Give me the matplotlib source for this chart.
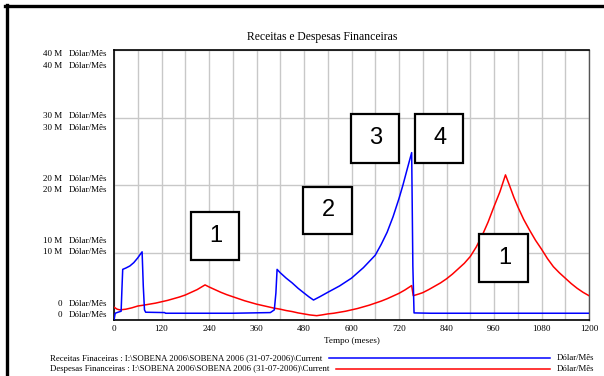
import numpy as np
import matplotlib
matplotlib.use("Agg")
import matplotlib.pyplot as plt
from matplotlib.lines import Line2D
from matplotlib.patches import Rectangle

# time axis (months) and values in millions of Dólar/Mês
receitas_t = [0, 3, 10, 18, 20, 22, 30, 40, 50, 60, 66, 71, 74, 77, 80, 128, 130,
              300, 395, 405, 409, 412, 420, 435, 450, 465, 480, 492, 504, 520, 540,
              570, 600, 630, 660, 675, 690, 705, 720, 730, 740, 752, 755, 758, 800,
              1200]
receitas_v = [0.0, 1.0, 1.15, 1.3, 4.5, 7.5, 7.7, 8.0, 8.5, 9.2, 9.7, 10.1, 5.0,
              1.5, 1.15, 1.1, 1.0, 1.0, 1.1, 1.5, 4.0, 7.5, 7.0, 6.2, 5.5, 4.7, 4.0,
              3.45, 2.96, 3.45, 4.1, 5.05, 6.2, 7.75, 9.6, 11.2, 13.0, 15.3, 18.0,
              20.0, 22.2, 24.8, 8.0, 1.05, 1.0, 1.0]

despesas_t = [0, 8, 15, 30, 45, 60, 75, 90, 105, 120, 135, 150, 165, 180, 195, 210,
              220, 230, 240, 255, 270, 285, 300, 315, 330, 345, 360, 375, 390, 405,
              420, 435, 450, 465, 480, 495, 512, 525, 540, 555, 570, 585, 600, 615,
              630, 645, 660, 675, 690, 705, 720, 735, 752, 756, 770, 780, 795, 810,
              825, 840, 855, 870, 885, 900, 915, 930, 945, 960, 975, 989, 1000, 1010,
              1020, 1035, 1050, 1065, 1080, 1095, 1110, 1125, 1140, 1155, 1170, 1185,
              1200]
despesas_v = [1.9, 1.6, 1.5, 1.6, 1.8, 2.07, 2.2, 2.35, 2.5, 2.7, 2.9, 3.15, 3.4,
              3.7, 4.1, 4.5, 4.85, 5.2, 4.9, 4.5, 4.1, 3.75, 3.45, 3.15, 2.85, 2.6,
              2.35, 2.15, 1.95, 1.75, 1.6, 1.4, 1.25, 1.05, 0.9, 0.75, 0.64, 0.75,
              0.9, 1.0, 1.15, 1.3, 1.5, 1.7, 1.95, 2.2, 2.5, 2.8, 3.15, 3.55, 3.95,
              4.45, 5.1, 3.6, 3.85, 4.05, 4.5, 5.0, 5.5, 6.1, 6.8, 7.6, 8.4, 9.4,
              10.8, 12.5, 14.5, 16.8, 19.0, 21.5, 19.8, 18.2, 16.8, 14.9, 13.3, 11.8,
              10.5, 9.1, 7.9, 7.0, 6.2, 5.4, 4.7, 4.1, 3.6]

x_ticks = list(range(0, 1201, 120))
y_ticks = [0, 10, 20, 30, 40]
y_tick_text = ["0", "10 M", "20 M", "30 M", "40 M"]
unidade = "Dólar/Mês"

titulo = "Receitas e Despesas Financeiras"
eixo_x = "Tempo (meses)"
legenda = [
    ("Receitas Finaceiras : I:\\SOBENA 2006\\SOBENA 2006 (31-07-2006)\\Current", "#0000ff"),
    ("Despesas Financeiras : I:\\SOBENA 2006\\SOBENA 2006 (31-07-2006)\\Current", "#ff0000"),
]

# numbered boxes: label, (left, top, right, bottom) in pixels
caixas = [
    ("1", (191, 212, 239, 260)),
    ("2", (303, 187, 352, 234)),
    ("3", (351, 114, 399, 163)),
    ("4", (415, 114, 463, 163)),
    ("1", (479, 234, 528, 282)),
]

W, H = 604, 376
serif = "Liberation Serif"

fig = plt.figure(figsize=(W / 100, H / 100), dpi=100)
fig.patch.set_facecolor("white")


def fx(px):
    return px / W


def fy(py):
    return 1 - py / H


ax_l, ax_r, ax_t, ax_b = 114, 589, 50, 320
ax = fig.add_axes([fx(ax_l), fy(ax_b), fx(ax_r - ax_l), (ax_b - ax_t) / H])
ax.set_xlim(0, 1200)
ax.set_ylim(0, 40)

ax.set_xticks(np.arange(0, 1201, 60))
ax.set_yticks(y_ticks)
ax.grid(True, color="#c8c8c8", linewidth=1.0)
ax.set_axisbelow(True)
ax.tick_params(length=0, labelleft=False, labelbottom=False)
for side in ["left", "top", "bottom"]:
    ax.spines[side].set_color("black")
    ax.spines[side].set_linewidth(1.2)
ax.spines["right"].set_color("#555555")
ax.spines["right"].set_linewidth(1.0)

ax.plot(despesas_t, despesas_v, color="#ff0000", linewidth=1.1, zorder=3)
ax.plot(receitas_t, receitas_v, color="#0000ff", linewidth=1.1, zorder=4)

# x tick labels
for t in x_ticks:
    ax.text(t, -0.018, str(t), transform=ax.get_xaxis_transform(), ha="center",
            va="top", fontsize=6.6, family=serif)
ax.text(0.5, -0.062, eixo_x, transform=ax.transAxes, ha="center", va="top",
        fontsize=6.6, family=serif)

# two stacked y scales (one per variable)
for v, txt in zip(y_ticks, y_tick_text):
    for base, span in [(0.06, 0.925), (0.02, 0.922)]:
        yf = base + span * v / 40
        ypx = ax_b - yf * (ax_b - ax_t)
        fig.text(fx(62), fy(ypx), txt, ha="right", va="center", fontsize=6.5, family=serif)
        fig.text(fx(69), fy(ypx), unidade, ha="left", va="center", fontsize=6.5, family=serif)

fig.text(fx(322), fy(37), titulo, ha="center", va="center", fontsize=8.4, family=serif)

# numbered boxes
for num, (l, t, r, b) in caixas:
    fig.patches.append(Rectangle((fx(l), fy(b)), fx(r - l), (b - t) / H,
                                 transform=fig.transFigure, facecolor="white",
                                 edgecolor="black", linewidth=1.6, zorder=5))
    fig.text(fx((l + r) / 2 + 1), fy((t + b) / 2), num, ha="center", va="center",
             fontsize=17, family="Liberation Sans", zorder=6)

# legend rows
for i, (txt, cor) in enumerate(legenda):
    ypx = 358 + i * 11
    t = fig.text(fx(50), fy(ypx), txt, ha="left", va="center", fontsize=6.35, family=serif)
    fig.canvas.draw()
    bb = t.get_window_extent()
    x0 = bb.x1 + 7
    fig.add_artist(Line2D([x0 / W, fx(550)], [fy(ypx), fy(ypx)], color=cor,
                          linewidth=1.1, transform=fig.transFigure))
    fig.text(fx(557), fy(ypx), unidade, ha="left", va="center", fontsize=6.35, family=serif)

# outer frame on left and top
fig.add_artist(Line2D([fx(6.5), fx(6.5)], [0, fy(5)], color="black", linewidth=2.4,
                      transform=fig.transFigure))
fig.add_artist(Line2D([fx(5.3), 1], [fy(6), fy(6)], color="black", linewidth=2.4,
                      transform=fig.transFigure))

fig.savefig("out.png", dpi=100)
